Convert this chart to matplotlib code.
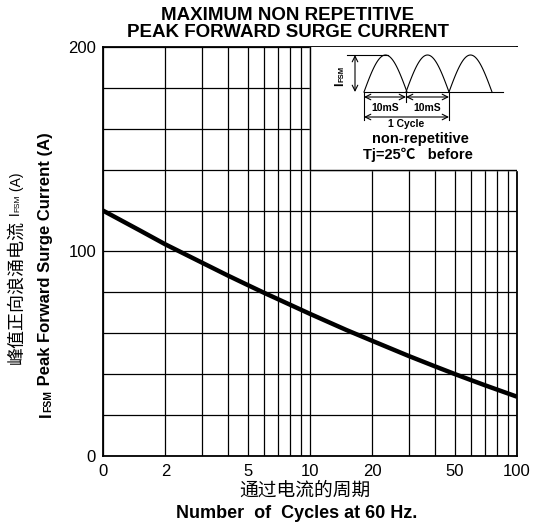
import numpy as np
import matplotlib.pyplot as plt

# surge current vs number of cycles
cycles = [1, 1.5, 2, 3, 4, 5, 6, 7, 8, 10, 15, 20, 30, 40, 50, 60, 70, 80, 100]
ifsm = [120, 110.4, 103.5, 94.6, 88.3, 83.6, 79.8, 76.7, 74, 69.5, 61.6,
        56.3, 48.9, 43.9, 40.1, 37.1, 34.6, 32.5, 29]

x_ticks = [1, 2, 5, 10, 20, 50, 100]
x_tick_labels = ['0', '2', '5', '10', '20', '50', '100']
y_ticks = [0, 100, 200]

W, H = 533, 526
fig = plt.figure(figsize=(W / 100, H / 100), dpi=100)
plt.rcParams['font.family'] = ['Liberation Sans', 'Noto Sans CJK SC', 'DejaVu Sans']

# axes box in pixels
L, R, T, B = 103, 517, 47, 456
ax = fig.add_axes([L / W, 1 - B / H, (R - L) / W, (B - T) / H])
ax.set_xscale('log')
ax.set_xlim(1, 100)
ax.set_ylim(0, 200)
ax.set_xticks(x_ticks)
ax.set_xticklabels(x_tick_labels)
ax.set_xticks([v * d for d in (1, 10) for v in range(2, 10) if v * d < 100], minor=True)
ax.set_xticklabels([], minor=True)
ax.set_yticks(y_ticks)
ax.set_yticks(np.arange(20, 200, 20), minor=True)
ax.tick_params(which='both', length=0, labelsize=12)
ax.tick_params(axis='y', pad=5)
ax.tick_params(axis='x', pad=6)
ax.grid(True, which='both', color='black', lw=0.9)
for s in ax.spines.values():
    s.set_linewidth(1.3)

ax.plot(cycles, ifsm, color='black', lw=3.2, solid_capstyle='butt', zorder=5)

# white inset box (covers grid) from 10..100, 140..200
ax.fill_between([10, 100], 140, 200, color='white', zorder=3)
ax.plot([10, 10, 100], [200, 140, 140], color='black', lw=1.0, zorder=4)

# inset schematic drawn in pixel space
ia = fig.add_axes([310 / W, 1 - 168 / H, (517 - 310) / W, (168 - 47) / H])
ia.set_xlim(310, 517)
ia.set_ylim(168, 47)
ia.axis('off')
base_y, peak_y = 92, 55
starts = [364, 406, 449]
hw = 43
for s0 in starts:
    xx = np.linspace(s0, s0 + hw, 60)
    ia.plot(xx, base_y - (base_y - peak_y) * np.sin(np.pi * (xx - s0) / hw), color='black', lw=0.8)
ia.plot([364, 503], [base_y, base_y], color='black', lw=0.8)
ia.plot([347, 388], [peak_y, peak_y], color='black', lw=0.8)
ia.annotate('', xy=(355, peak_y), xytext=(355, base_y),
            arrowprops=dict(arrowstyle='<->', lw=0.8, shrinkA=0, shrinkB=0))
ia.plot([364, 364], [base_y, 120], color='black', lw=0.8)
ia.plot([406, 406], [base_y, 102], color='black', lw=0.8)
ia.plot([449, 449], [base_y, 120], color='black', lw=0.8)
for a, b in [(364, 406), (406, 449)]:
    ia.annotate('', xy=(a, 97), xytext=(b, 97),
                arrowprops=dict(arrowstyle='<->', lw=0.8, shrinkA=0, shrinkB=0))
    ia.text((a + b) / 2, 108, '10mS', ha='center', va='center', fontsize=7.5, fontweight='bold')
ia.annotate('', xy=(364, 117), xytext=(449, 117),
            arrowprops=dict(arrowstyle='<->', lw=0.8, shrinkA=0, shrinkB=0))
ia.text(406, 124, '1 Cycle', ha='center', va='center', fontsize=7.5, fontweight='bold')
ia.text(420, 139, 'non-repetitive', ha='center', va='center', fontsize=10.5, fontweight='bold')
ia.text(418, 155, 'Tj=25℃   before', ha='center', va='center', fontsize=10.5, fontweight='bold')

renderer = fig.canvas.get_renderer()


def vstack(pieces, x, y0):
    # stack rotated text pieces upward from pixel y0 (top-down coords)
    y = H - y0
    for s, size, weight, dx in pieces:
        t = fig.text((x + dx) / W, y / H, s, rotation=90, ha='center', va='bottom',
                     fontsize=size, fontweight=weight)
        y += t.get_window_extent(renderer).height


vstack([('I', 9, 'bold', 0), ('FSM', 5.5, 'bold', 2)], 340, 86)

vstack([('峰值正向浪涌电流', 13, 'normal', 0), (' I', 10, 'normal', -1),
        ('FSM', 6, 'normal', 1), (' (A)', 10, 'normal', 0)], 17, 364)
vstack([('I', 12, 'bold', 0), ('FSM', 7.5, 'bold', 2),
        (' Peak Forward Surge Current (A)', 12, 'bold', 0)], 46, 417)

fig.text(305 / W, 1 - 491 / H, '通过电流的周期', ha='center', va='center', fontsize=13.5)
fig.text(297 / W, 1 - 514 / H, 'Number  of  Cycles at 60 Hz.', ha='center', va='center',
         fontsize=13, fontweight='bold')

fig.text(288 / W, 1 - 24 / H, 'MAXIMUM NON REPETITIVE\nPEAK FORWARD SURGE CURRENT',
         ha='center', va='center', fontsize=13.5, fontweight='bold', linespacing=1.0)

fig.savefig('out.png', dpi=100)
